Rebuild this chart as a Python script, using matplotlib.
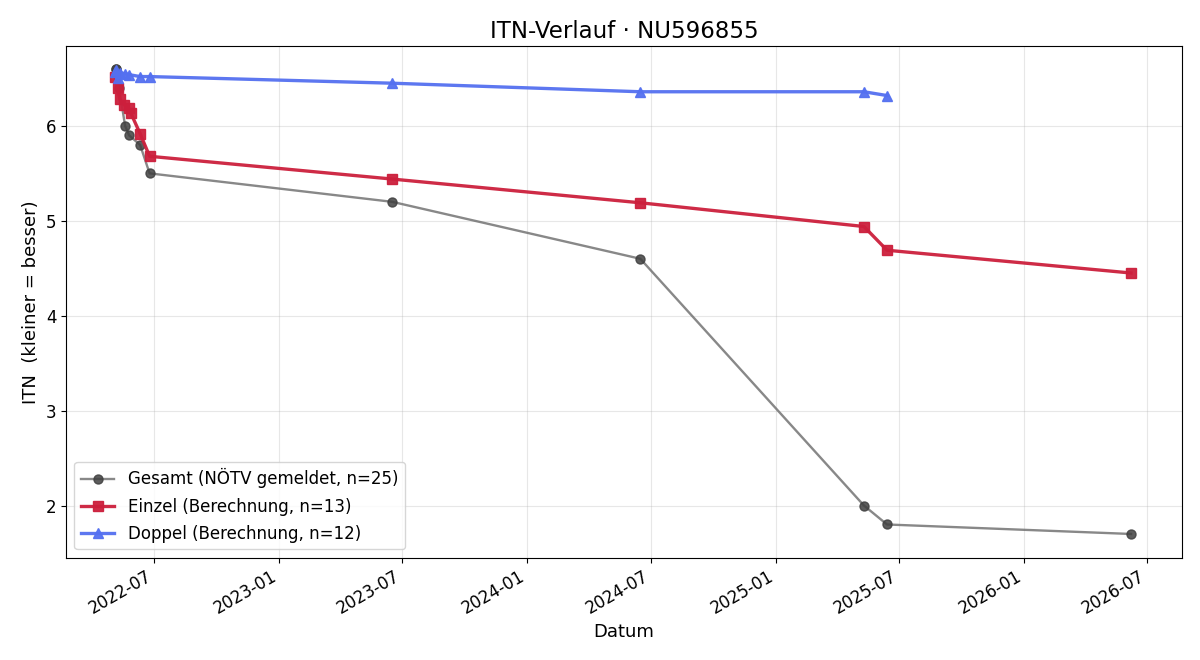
import numpy as np
import pandas as pd
import matplotlib
matplotlib.use("Agg")
import matplotlib.pyplot as plt
import matplotlib.dates as mdates

# Gesamt (NÖTV gemeldet)
ges_dates = pd.to_datetime(["2022-05-05", "2022-05-06", "2022-05-10", "2022-05-19", "2022-05-25",
                            "2022-06-10", "2022-06-24", "2023-06-16", "2024-06-15", "2025-05-10",
                            "2025-06-13", "2026-06-07"])
ges_itn = [6.6, 6.6, 6.4, 6.0, 5.9, 5.8, 5.5, 5.2, 4.6, 2.0, 1.8, 1.7]

# Einzel (Berechnung)
ein_dates = pd.to_datetime(["2022-05-04", "2022-05-08", "2022-05-11", "2022-05-18", "2022-05-24",
                            "2022-05-27", "2022-06-10", "2022-06-24", "2023-06-16", "2024-06-15",
                            "2025-05-10", "2025-06-13", "2026-06-07"])
ein_itn = [6.52, 6.4, 6.28, 6.22, 6.19, 6.14, 5.92, 5.68, 5.44, 5.19, 4.94, 4.69, 4.45]

# Doppel (Berechnung)
dop_dates = pd.to_datetime(["2022-05-04", "2022-05-06", "2022-05-08", "2022-05-12", "2022-05-19",
                            "2022-05-25", "2022-06-10", "2022-06-24", "2023-06-16", "2024-06-15",
                            "2025-05-10", "2025-06-13"])
dop_itn = [6.57, 6.59, 6.5, 6.56, 6.55, 6.54, 6.52, 6.52, 6.45, 6.36, 6.36, 6.32]

fig, ax = plt.subplots(figsize=(12, 6.6), dpi=100)

ax.plot(ges_dates, ges_itn, color="0.45", lw=1.7, marker="o", ms=6.5,
        mfc="0.25", mec="0.25", alpha=0.85, label="Gesamt (NÖTV gemeldet, n=25)")
ax.plot(ein_dates, ein_itn, color="#cc1f3c", lw=2.4, marker="s", ms=7.5,
        alpha=0.95, label="Einzel (Berechnung, n=13)")
ax.plot(dop_dates, dop_itn, color="#5470f0", lw=2.4, marker="^", ms=7.5,
        alpha=0.95, label="Doppel (Berechnung, n=12)")

ax.set_xlim(pd.Timestamp("2022-02-21"), pd.Timestamp("2026-08-21"))
ax.set_ylim(1.45, 6.84)
ax.xaxis.set_major_locator(mdates.MonthLocator(bymonth=[1, 7]))
ax.xaxis.set_major_formatter(mdates.DateFormatter("%Y-%m"))
for lbl in ax.get_xticklabels():
    lbl.set_rotation(30)
    lbl.set_ha("right")

ax.grid(True, alpha=0.3)
ax.set_title("ITN-Verlauf · NU596855", fontsize=16.5)
ax.set_xlabel("Datum", fontsize=13)
ax.set_ylabel("ITN  (kleiner = besser)", fontsize=13)
ax.tick_params(labelsize=12)
ax.legend(loc="lower left", fontsize=12, labelspacing=0.55)

fig.subplots_adjust(left=0.055, right=0.985, top=0.93, bottom=0.155)
fig.savefig("out.png", dpi=100)
